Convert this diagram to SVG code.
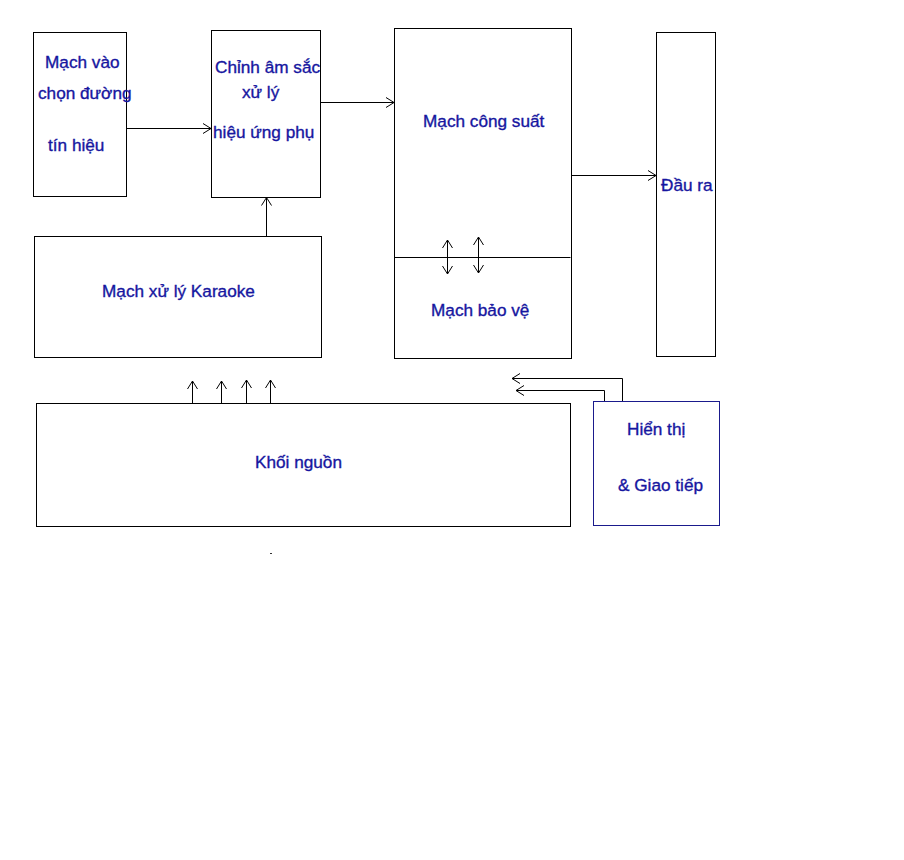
<svg xmlns="http://www.w3.org/2000/svg" width="904" height="860" viewBox="0 0 904 860">
<style>
.box{fill:none;stroke:#000;stroke-width:1}
.bluebox{fill:none;stroke:#1a1a8c;stroke-width:1}
.t{font-family:"Liberation Sans",Arial,sans-serif;font-size:17.2px;fill:#1616a0;stroke:#1616a0;stroke-width:0.35}
.c{fill:none;stroke:#000;stroke-width:1}
</style>
<defs>
<marker id="ah" markerUnits="userSpaceOnUse" markerWidth="12" markerHeight="12" refX="9" refY="6" orient="auto-start-reverse">
<path d="M1,1 L9,6 L1,11" fill="none" stroke="#000" stroke-width="1"/>
</marker>
</defs>
<rect width="904" height="860" fill="#fff"/>
<g id="mach-vao">
<rect class="box" x="33.5" y="32.5" width="93" height="164"/>
<text class="t" x="45" y="68">Mạch vào</text>
<text class="t" x="38" y="99">chọn đường</text>
<text class="t" x="48" y="151">tín hiệu</text>
</g>
<g id="chinh-am-sac">
<rect class="box" x="211.5" y="30.5" width="109" height="167"/>
<text class="t" x="215" y="73">Chỉnh âm sắc</text>
<text class="t" x="242" y="98">xử lý</text>
<text class="t" x="213" y="138">hiệu ứng phụ</text>
</g>
<g id="mach-cong-suat">
<rect class="box" x="394.5" y="28.5" width="177" height="330"/>
<line class="box" x1="394.5" y1="257.5" x2="570.5" y2="257.5"/>
<text class="t" x="423" y="127">Mạch công suất</text>
<text class="t" x="431" y="316">Mạch bảo vệ</text>
</g>
<g id="dau-ra">
<rect class="box" x="656.5" y="32.5" width="59" height="324"/>
<text class="t" x="661" y="191">Đầu ra</text>
</g>
<g id="karaoke">
<rect class="box" x="34.5" y="236.5" width="287" height="121"/>
<text class="t" x="102" y="297">Mạch xử lý Karaoke</text>
</g>
<g id="khoi-nguon">
<rect class="box" x="36.5" y="403.5" width="534" height="123"/>
<text class="t" x="255" y="468">Khối nguồn</text>
<rect x="270" y="553" width="2" height="1" fill="#333"/>
</g>
<g id="hien-thi">
<rect class="bluebox" x="593.5" y="401.5" width="126" height="124"/>
<text class="t" x="627" y="435">Hiển thị</text>
<text class="t" x="618" y="491">&amp; Giao tiếp</text>
</g>
<g id="connectors">
<line class="c" x1="126.5" y1="128.5" x2="211" y2="128.5" marker-end="url(#ah)"/>
<line class="c" x1="320.5" y1="102.5" x2="394" y2="102.5" marker-end="url(#ah)"/>
<line class="c" x1="571.5" y1="175.5" x2="656" y2="175.5" marker-end="url(#ah)"/>
<line class="c" x1="266.5" y1="236" x2="266.5" y2="197.5" marker-end="url(#ah)"/>
<line class="c" x1="192.5" y1="403" x2="192.5" y2="381" marker-end="url(#ah)"/>
<line class="c" x1="221.5" y1="403" x2="221.5" y2="381" marker-end="url(#ah)"/>
<line class="c" x1="246.5" y1="403" x2="246.5" y2="380" marker-end="url(#ah)"/>
<line class="c" x1="270.5" y1="403" x2="270.5" y2="380" marker-end="url(#ah)"/>
<line class="c" x1="447.5" y1="240" x2="447.5" y2="274" marker-start="url(#ah)" marker-end="url(#ah)"/>
<line class="c" x1="478.5" y1="237" x2="478.5" y2="273" marker-start="url(#ah)" marker-end="url(#ah)"/>
<polyline class="c" points="622.5,401 622.5,378.5 512,378.5" marker-end="url(#ah)"/>
<polyline class="c" points="604.5,401 604.5,390.5 516,390.5" marker-end="url(#ah)"/>
</g>
</svg>
